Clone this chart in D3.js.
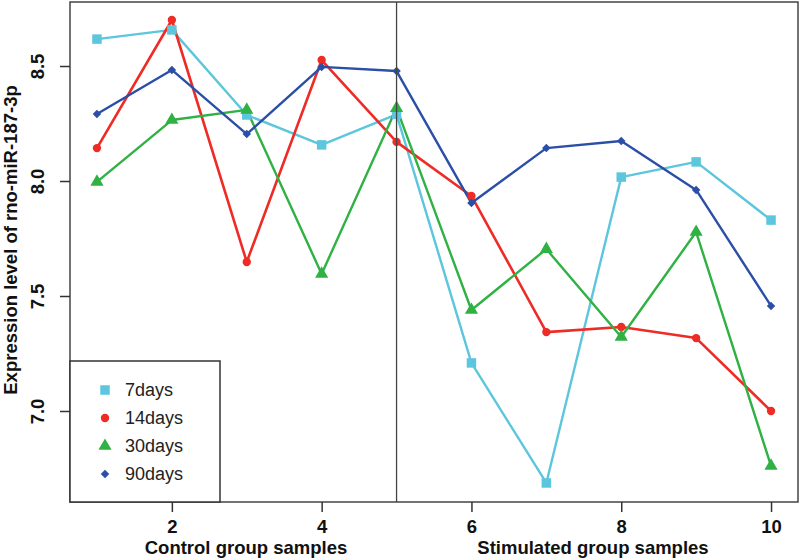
<!DOCTYPE html>
<html><head><meta charset="utf-8">
<script src="https://cdn.jsdelivr.net/npm/d3@7"></script>
<style>body{margin:0;background:#fff}svg{display:block}</style>
</head><body><svg id="c" width="800" height="560"></svg>
<script>
const samples = [1,2,3,4,5,6,7,8,9,10];
const days7  = [8.617,8.657,8.287,8.157,8.290,7.209,6.687,8.017,8.083,7.830];
const days14 = [8.143,8.700,7.648,8.526,8.170,7.935,7.343,7.365,7.317,7.000];
const days30 = [7.996,8.265,8.309,7.596,8.317,7.439,7.704,7.322,7.778,6.761];
const days90 = [8.291,8.483,8.204,8.496,8.478,7.904,8.143,8.174,7.961,7.457];
const seriesNames = ["7days","14days","30days","90days"];
const xTicks = [2,4,6,8,10];
const yTicks = [7.0,7.5,8.0,8.5];
const groupTitles = ["Control group samples","Stimulated group samples"];
const yTitle = "Expression level of rno-miR-187-3p";

const colors = ["#5cc6dd","#ee2b25","#2fb143","#2b4ea6"];
const shapes = [d3.symbolSquare, d3.symbolCircle, d3.symbolTriangle, d3.symbolSquare];
const sizes = [90, 55, 75, 36];
const rot = [0, 0, 0, 45];
const allSeries = [days7, days14, days30, days90];

const svg = d3.select("#c");
const L=70, R=798, T=2, B=502;
const x = d3.scaleLinear().domain([0.64,10.36]).range([L,R]);
const y = d3.scaleLinear().domain([6.6043,8.7783]).range([B,T]);
const font = "'Liberation Sans', Arial, sans-serif";

// lines
const line = d3.line().x((d,i)=>x(samples[i])).y(d=>y(d));
allSeries.forEach((s,k)=>{
  svg.append("path").attr("d", line(s)).attr("fill","none")
    .attr("stroke", colors[k]).attr("stroke-width", k===1?2.6:2.4).attr("stroke-linejoin","round");
});
allSeries.forEach((s,k)=>{
  svg.selectAll(null).data(s).enter().append("path")
    .attr("d", d3.symbol().type(shapes[k]).size(sizes[k]))
    .attr("transform",(d,i)=>`translate(${x(samples[i])},${y(d)}) rotate(${rot[k]})`)
    .attr("fill", colors[k]);
});

// divider
svg.append("line").attr("x1",x(5)).attr("x2",x(5)).attr("y1",T).attr("y2",B)
  .attr("stroke","#444").attr("stroke-width",1.3);

// frame
svg.append("rect").attr("x",L).attr("y",T).attr("width",R-L).attr("height",B-T)
  .attr("fill","none").attr("stroke","#444").attr("stroke-width",1.5);

// x axis
const xa = svg.append("g").attr("transform",`translate(0,${B})`)
  .call(d3.axisBottom(x).tickValues(xTicks).tickSize(10).tickPadding(8).tickFormat(d3.format("d")));
xa.select(".domain").remove();
xa.selectAll("line").attr("stroke","#333").attr("stroke-width",1.5);
xa.selectAll("text").attr("font-family",font).attr("font-size",18.5).attr("font-weight","bold").attr("fill","#111");

// y axis
const ya = svg.append("g").attr("transform",`translate(${L},0)`)
  .call(d3.axisLeft(y).tickValues(yTicks).tickSize(10).tickFormat(d3.format(".1f")));
ya.select(".domain").remove();
ya.selectAll("line").attr("stroke","#333").attr("stroke-width",1.5);
ya.selectAll("text").attr("font-family",font).attr("font-size",18.5).attr("font-weight","bold").attr("fill","#111")
  .attr("text-anchor","middle").attr("x",0).attr("y",0).attr("dy",0)
  .attr("dominant-baseline","central")
  .attr("transform","translate(-33,0) rotate(-90)");

// titles
const titleX = [246, 593];
groupTitles.forEach((t,i)=>{
  svg.append("text").attr("x",titleX[i]).attr("y",554).attr("text-anchor","middle")
    .attr("font-family",font).attr("font-size",18.5).attr("font-weight","bold").attr("fill","#111").text(t);
});
svg.append("text").attr("transform",`translate(17,${240}) rotate(-90)`).attr("text-anchor","middle")
  .attr("font-family",font).attr("font-size",18.5).attr("font-weight","bold").attr("fill","#111").text(yTitle);

// legend
svg.append("rect").attr("x",L).attr("y",361).attr("width",150).attr("height",B-361)
  .attr("fill","#fff").attr("stroke","#333").attr("stroke-width",1.5);
const legY = [390,418,446,474];
seriesNames.forEach((n,k)=>{
  svg.append("path").attr("d", d3.symbol().type(shapes[k]).size(sizes[k]))
    .attr("transform",`translate(105,${legY[k]}) rotate(${rot[k]})`).attr("fill",colors[k]);
  svg.append("text").attr("x",125).attr("y",legY[k]).attr("dy","0.36em")
    .attr("font-family",font).attr("font-size",18).attr("fill","#222").text(n);
});
</script></body></html>
